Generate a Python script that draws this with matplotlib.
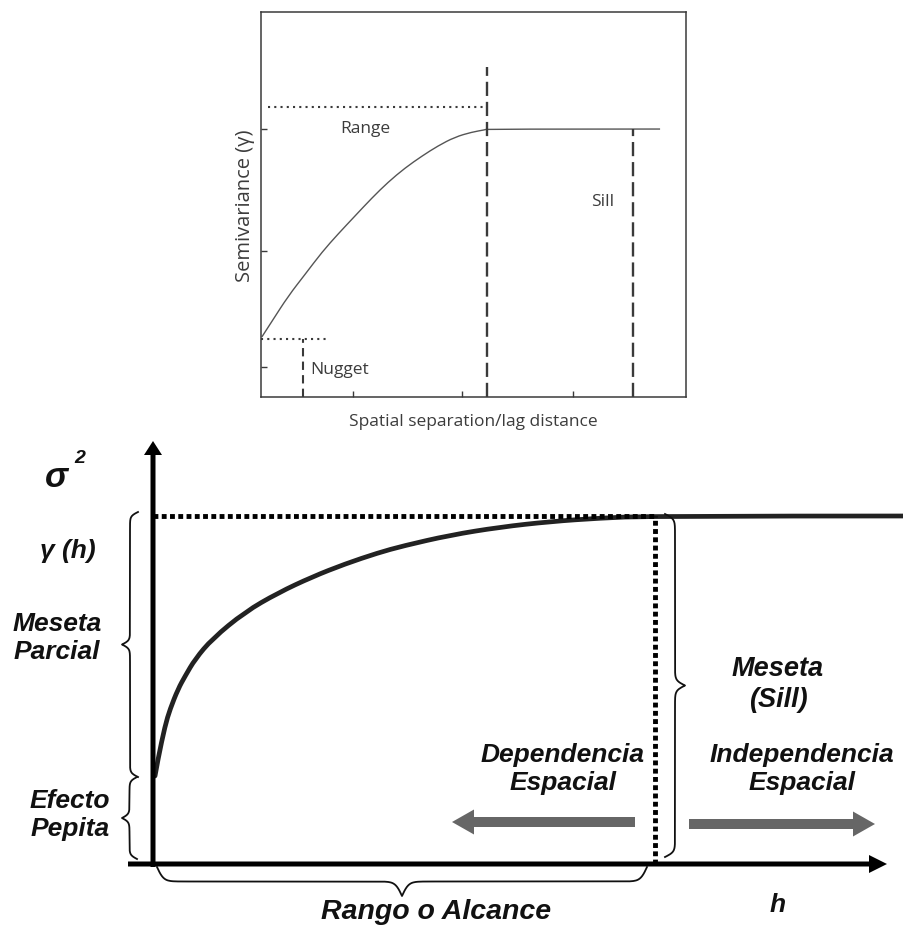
import numpy as np
import matplotlib
matplotlib.use("Agg")
import matplotlib.pyplot as plt
from matplotlib.patches import FancyArrow, PathPatch
from matplotlib.path import Path

# ---- top: spherical semivariogram sketch ----
top_h = [0.02, 0.26, 0.64, 1.04, 1.44, 1.81, 2.21, 2.61, 2.99, 3.39, 3.79,
         4.16, 4.56, 4.96, 5.27, 5.32, 9.39]
top_gamma = [1.56, 1.97, 2.62, 3.19, 3.77, 4.23, 4.70, 5.17, 5.58, 5.95, 6.26,
             6.52, 6.75, 6.88, 6.94, 6.96, 6.96]
top_xticks = [2.16, 4.73, 7.34]
top_yticks = [0.78, 3.79, 6.96]
top_nugget = 1.51
top_nugget_h = 0.99
top_sill = 6.96
top_sill_h = 8.75
top_range_h = 5.32
top_range_level = 7.53

# ---- bottom: semivariogram with nugget, sill and range (sill = range = 1) ----
bot_h = [0.004, 0.010, 0.024, 0.034, 0.050, 0.064, 0.084, 0.118, 0.183, 0.249,
         0.317, 0.382, 0.448, 0.498, 0.592, 0.691, 0.791, 0.890, 0.990, 1.50]
bot_gamma = [0.253, 0.302, 0.397, 0.445, 0.503, 0.540, 0.589, 0.647, 0.724, 0.779,
             0.825, 0.862, 0.894, 0.914, 0.945, 0.968, 0.984, 0.994, 1.0, 1.0]
bot_sill = 1.0
bot_range = 1.0

W, H = 904, 928
fig = plt.figure(figsize=(W / 100, H / 100), dpi=100)


def smooth_line(ax, xs, ys, **kw):
    # quadratic bezier through the midpoints, using the read points as controls
    pts = list(zip(xs, ys))
    verts = [pts[0]]
    codes = [Path.MOVETO]
    for i in range(1, len(pts) - 1):
        mid = ((pts[i][0] + pts[i + 1][0]) / 2, (pts[i][1] + pts[i + 1][1]) / 2)
        if i == len(pts) - 2:
            mid = pts[-1]
        verts += [pts[i], mid]
        codes += [Path.CURVE3, Path.CURVE3]
    ax.add_patch(PathPatch(Path(verts, codes), fill=False, clip_on=False, **kw))


# ---------------- top inset ----------------
gray = "#3a3a3a"
tfont = dict(family="Open Sans", color="#3c3c3c", fontsize=12.5)
ax1 = fig.add_axes([261 / W, (H - 398) / H, 425 / W, 385 / H])
ax1.set_xlim(0, 10)
ax1.set_ylim(0, 10)
smooth_line(ax1, top_h, top_gamma, edgecolor="#555555", lw=1.0)
ax1.plot([0.16, top_range_h], [top_range_level] * 2, color=gray, lw=1.5,
         ls=(0, (1, 2)))
ax1.plot([top_range_h] * 2, [0, 8.57], color=gray, lw=1.7, ls=(0, (6, 2.5)))
ax1.plot([top_sill_h] * 2, [0, top_sill], color=gray, lw=1.7, ls=(0, (6, 2.5)))
ax1.plot([0, 1.58], [top_nugget] * 2, color=gray, lw=1.5, ls=(0, (1, 2)))
ax1.plot([top_nugget_h] * 2, [0, top_nugget], color=gray, lw=1.5, ls=(0, (4, 2.5)))
ax1.text(2.45, 7.0, "Range", ha="center", va="center", **tfont)
ax1.text(8.05, 5.09, "Sill", ha="center", va="center", **tfont)
ax1.text(1.15, 0.73, "Nugget", ha="left", va="center", **tfont)
ax1.set_xticks(top_xticks)
ax1.set_yticks(top_yticks)
ax1.set_xticklabels([])
ax1.set_yticklabels([])
ax1.tick_params(direction="in", length=4, width=1, color=gray)
for s in ax1.spines.values():
    s.set_color(gray)
    s.set_linewidth(1.1)
ax1.set_xlabel("Spatial separation/lag distance", labelpad=8, **tfont)
ax1.set_ylabel("Semivariance (γ)", labelpad=1, family="Open Sans",
               color="#3c3c3c", fontsize=14.5)

# ---------------- bottom chart ----------------
ax2 = fig.add_axes([153 / W, (H - 865) / H, 502 / W, 348 / H])
ax2.set_xlim(0, 1)
ax2.set_ylim(0, 1)
ax2.axis("off")
smooth_line(ax2, bot_h, bot_gamma, edgecolor="#222222", lw=3.4,
            capstyle="round")
dots = (0, (1.0, 0.7))
ax2.plot([0, bot_range], [bot_sill, bot_sill], color="black", lw=3.5, ls=dots,
         dash_capstyle="butt", clip_on=False)
ax2.plot([bot_range, bot_range], [0, bot_sill], color="black", lw=3.5, ls=dots,
         dash_capstyle="butt", clip_on=False)

# overlay in pixel units for axes arrows, braces and labels
ov = fig.add_axes([0, 0, 1, 1])
ov.set_xlim(0, W)
ov.set_ylim(H, 0)
ov.axis("off")

ov.add_patch(FancyArrow(153, 868, 0, -426, width=5, head_width=18, head_length=14,
                        length_includes_head=True, color="black", lw=0))
ov.add_patch(FancyArrow(128, 865, 759, 0, width=5, head_width=18, head_length=18,
                        length_includes_head=True, color="black", lw=0))

# gray arrows
ov.add_patch(FancyArrow(635, 823, -183, 0, width=10, head_width=25, head_length=22,
                        length_includes_head=True, color="#666666", lw=0))
ov.add_patch(FancyArrow(689, 825, 186, 0, width=10, head_width=25, head_length=22,
                        length_includes_head=True, color="#666666", lw=0))


def brace(a, b, c, depth, vertical, k=0.5):
    L = (b - a) / 2
    t = np.linspace(0, L, 200)
    half = 1 / (1 + np.exp(-k * t)) + 1 / (1 + np.exp(-k * (t - L))) - 0.5
    along = np.concatenate([a + t, b - t[::-1]])
    across = c + depth * np.concatenate([half, half[::-1]])
    if vertical:
        ov.plot(across, along, color="#111111", lw=1.3)
    else:
        ov.plot(along, across, color="#111111", lw=1.3)


brace(513, 778, 138, -16, True)
brace(778, 860, 137, -15, True)
brace(157, 647, 868, 29, False, k=0.3)
brace(515, 858, 665, 20, True, k=0.4)

bfont = dict(family="Liberation Sans", weight="bold", style="italic",
             color="#111111", ha="center", va="center", linespacing=1.25)
ov.text(56, 478, "σ", fontsize=25, **bfont)
ov.text(80, 459, "2", fontsize=14, **bfont)
ov.text(68, 551, "γ (h)", fontsize=19, **bfont)
ov.text(57, 638, "Meseta\nParcial", fontsize=19, **bfont)
ov.text(70, 815, "Efecto\nPepita", fontsize=19, **bfont)
ov.text(436, 912, "Rango o Alcance", fontsize=20.5, **bfont)
ov.text(778, 905, "h", fontsize=19, **bfont)
ov.text(778, 685, "Meseta\n(Sill)", fontsize=19.5, **bfont)
ov.text(563, 769, "Dependencia\nEspacial", fontsize=19, **bfont)
ov.text(802, 769, "Independencia\nEspacial", fontsize=19, **bfont)

fig.savefig("out.png", dpi=100)
